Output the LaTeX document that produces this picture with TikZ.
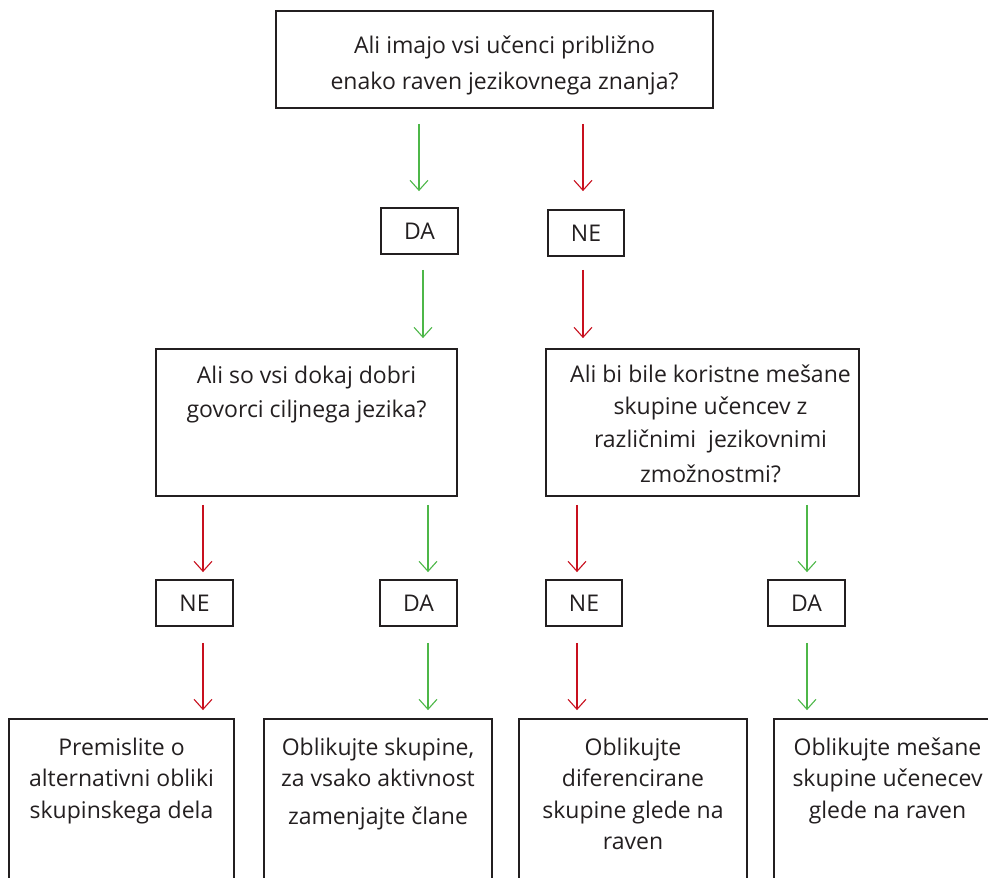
\documentclass[tikz,border=0pt]{standalone}
\usepackage{fontspec}
\setmainfont{Open Sans}
\usetikzlibrary{arrows.meta}
\definecolor{ink}{HTML}{231F20}
\definecolor{agreen}{RGB}{77,183,72}
\definecolor{ared}{RGB}{200,16,30}
% #1 width, #2 height, #3 baselineskip, #4 top space, #5 left shift, #6 text
\newcommand{\bxt}[6]{\parbox[c][#2][t]{#1}{\fontsize{23}{#3}\selectfont\centering\leftskip=#5 plus 1fil\vspace*{#4}\strut #6}}
\begin{document}
\begin{tikzpicture}[x=1pt,y=-1pt,
  bigbox/.style={draw=ink,line width=1.8pt,inner sep=0pt,text=ink,rectangle},
  smallbox/.style={draw=ink,line width=1.8pt,inner sep=0pt,text=ink,rectangle,font=\fontsize{23}{27}\selectfont},
  garr/.style={draw=agreen,line width=1.1pt,-{Straight Barb[length=10pt,width=18pt]}},
  rarr/.style={draw=ared,line width=1.1pt,-{Straight Barb[length=10pt,width=18pt]}}]
\useasboundingbox (0,0) rectangle (988,878);
\clip (0,0) rectangle (988,878);
% boxes
\node[bigbox] (top) at (494.5,59.5) {\bxt{437pt}{97pt}{36pt}{16.8pt}{20pt}{Ali imajo vsi učenci približno\\enako raven jezikovnega znanja?}};
\node[smallbox,minimum width=77pt,minimum height=46pt] (DA1) at (419.5,231) {DA};
\node[smallbox,minimum width=76pt,minimum height=46pt] (NE1) at (586,233) {NE};
\node[bigbox] (leftQ) at (306.5,422.5) {\bxt{301pt}{147pt}{34pt}{10.2pt}{0pt}{Ali so vsi dokaj dobri\\govorci ciljnega jezika?}};
\node[bigbox] (rightQ) at (702.5,422.5) {\bxt{313pt}{147pt}{32.5pt}{10.25pt}{16pt}{Ali bi bile koristne mešane\\skupine učencev z\\različnimi\ \ jezikovnimi\\[3pt]zmožnostmi?}};
\node[smallbox,minimum width=77pt,minimum height=46pt] (NEa) at (194.5,603) {NE};
\node[smallbox,minimum width=77pt,minimum height=46pt] (DAa) at (418.5,603) {DA};
\node[smallbox,minimum width=76pt,minimum height=46pt] (NEb) at (584,603) {NE};
\node[smallbox,minimum width=77pt,minimum height=46pt] (DAb) at (806.5,603) {DA};
\node[bigbox] (b1) at (121.5,809.5) {\bxt{225pt}{181pt}{31.5pt}{13.95pt}{0pt}{Premislite o\\alternativni obliki\\skupinskega dela}};
\node[bigbox] (b2) at (378,809.5) {\bxt{228pt}{181pt}{31.5pt}{13.95pt}{0pt}{Oblikujte skupine,\\za vsako aktivnost\\[6pt]zamenjajte člane}};
\node[bigbox] (b3) at (633,809.5) {\bxt{228pt}{181pt}{31.5pt}{13.95pt}{0pt}{Oblikujte\\diferencirane\\skupine glede na\\raven}};
\node[bigbox] (b4) at (887.5,809.5) {\bxt{227pt}{181pt}{31.5pt}{13.95pt}{0pt}{Oblikujte mešane\\skupine učenecev\\glede na raven}};
% arrow columns
\coordinate (t1) at (419,0);
\coordinate (t2) at (583,0);
\coordinate (m1) at (423,0);
\coordinate (m2) at (583,0);
\coordinate (c1) at (203,0);
\coordinate (c2) at (428,0);
\coordinate (c3) at (577,0);
\coordinate (c4) at (807,0);
% arrows
\draw[garr,shorten <=15pt,shorten >=16pt] (top.south -| t1) -- (DA1.north -| t1);
\draw[rarr,shorten <=15pt,shorten >=18pt] (top.south -| t2) -- (NE1.north -| t2);
\draw[garr,shorten <=15pt,shorten >=10pt] (DA1.south -| m1) -- (leftQ.north -| m1);
\draw[rarr,shorten <=13pt,shorten >=10pt] (NE1.south -| m2) -- (rightQ.north -| m2);
\draw[rarr,shorten <=8pt,shorten >=7pt] (leftQ.south -| c1) -- (NEa.north -| c1);
\draw[garr,shorten <=8pt,shorten >=7pt] (leftQ.south -| c2) -- (DAa.north -| c2);
\draw[rarr,shorten <=8pt,shorten >=7pt] (rightQ.south -| c3) -- (NEb.north -| c3);
\draw[garr,shorten <=8pt,shorten >=7pt] (rightQ.south -| c4) -- (DAb.north -| c4);
\draw[rarr,shorten <=16pt,shorten >=8pt] (NEa.south -| c1) -- (b1.north -| c1);
\draw[garr,shorten <=16pt,shorten >=8pt] (DAa.south -| c2) -- (b2.north -| c2);
\draw[rarr,shorten <=16pt,shorten >=8pt] (NEb.south -| c3) -- (b3.north -| c3);
\draw[garr,shorten <=16pt,shorten >=8pt] (DAb.south -| c4) -- (b4.north -| c4);
\end{tikzpicture}
\end{document}
